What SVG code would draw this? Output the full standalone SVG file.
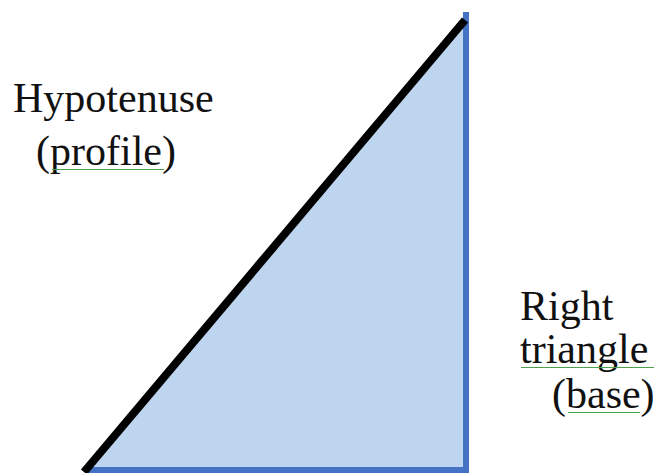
<svg xmlns="http://www.w3.org/2000/svg" width="660" height="473" viewBox="0 0 660 473">
<defs>
<style>
.lbl{font-family:"Liberation Serif","Times New Roman",serif;font-size:42px;fill:#111}
.sq{fill:none;stroke:#4ca24c;stroke-width:1}
</style>
<pattern id="wave" width="4" height="3" patternUnits="userSpaceOnUse"><path d="M0 2 L1 1 L2 2 L3 1 L4 2" class="sq"/></pattern>
</defs>
<rect width="660" height="473" fill="#fff"/>
<g id="triangle">
<polygon points="86,470 466,14 466,470" fill="#bdd5ee"/>
<polyline points="86,470 466,470 466,12" fill="none" stroke="#4472c4" stroke-width="6"/>
<line x1="84" y1="472" x2="465" y2="20" stroke="#000" stroke-width="8"/>
</g>
<g id="label-hyp">
<text class="lbl" x="13" y="112">Hypotenuse</text>
<text class="lbl" x="36" y="165">(profile)</text>
<rect x="52" y="167" width="112" height="3" fill="url(#wave)"/>
</g>
<g id="label-right">
<text class="lbl" x="520" y="320">Right</text>
<text class="lbl" x="520" y="363">triangle</text>
<rect x="521" y="367" width="133" height="3" fill="url(#wave)"/>
<text class="lbl" x="552" y="408">(base)</text>
<rect x="568" y="411" width="72" height="3" fill="url(#wave)"/>
</g>
</svg>
